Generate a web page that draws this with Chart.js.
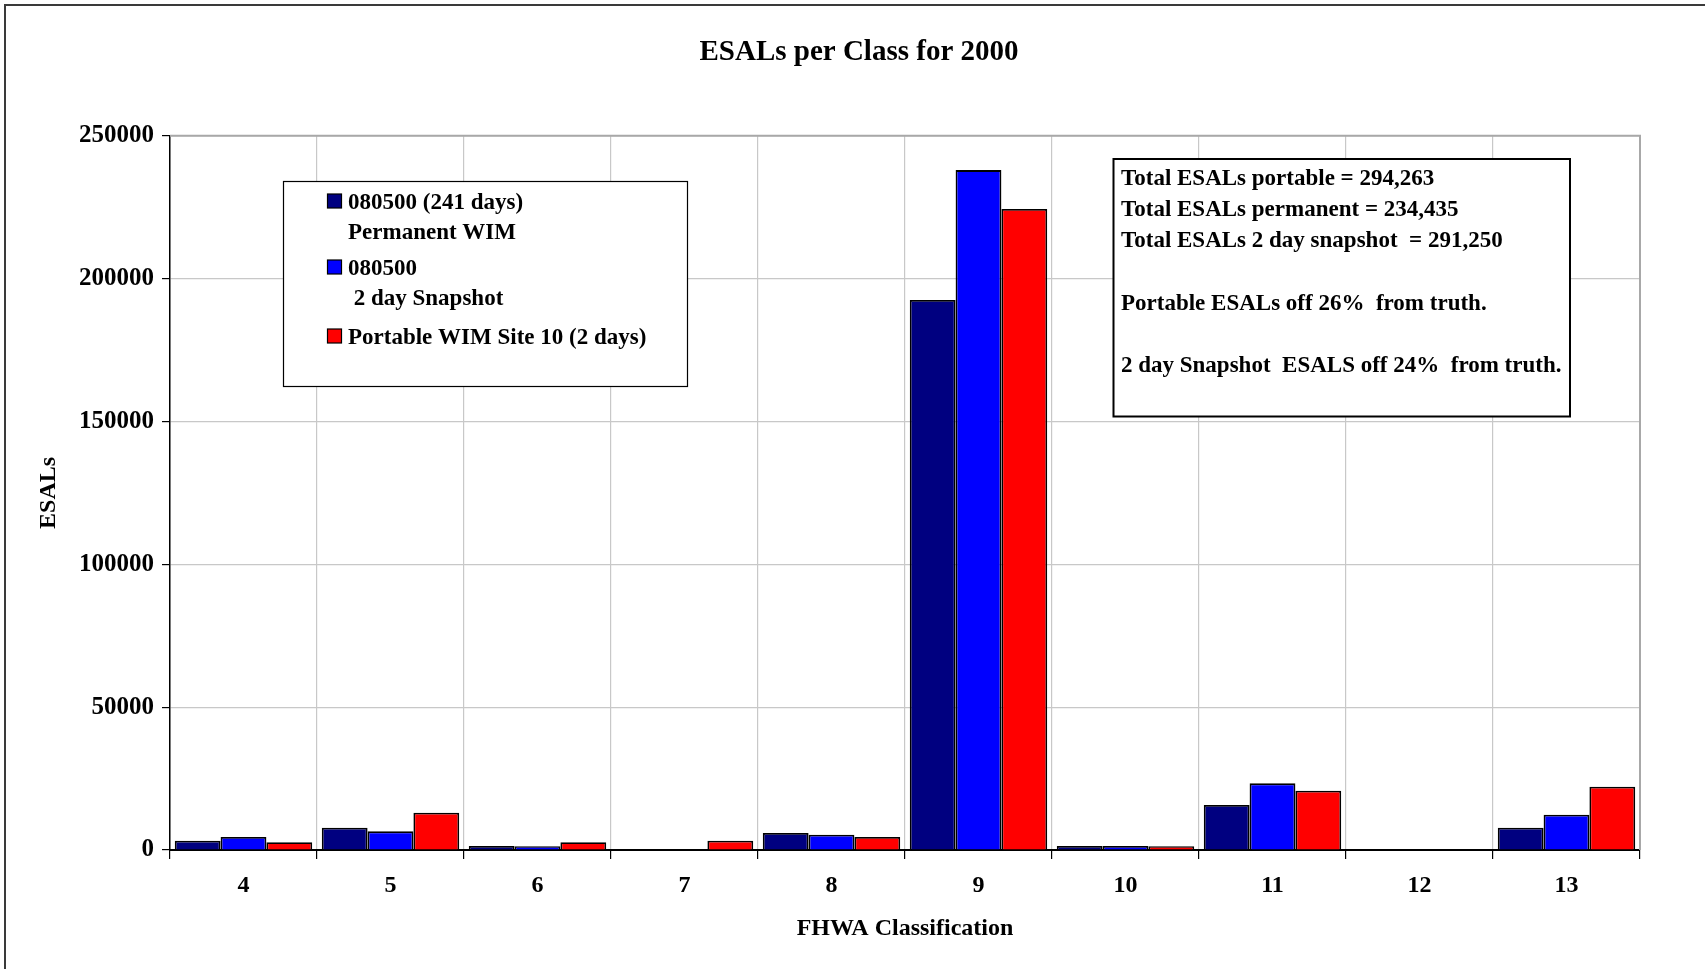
<!DOCTYPE html>
<html>
<head>
<meta charset="utf-8">
<title>ESALs per Class for 2000</title>
<script src="https://cdn.jsdelivr.net/npm/chart.js@4.4.1/dist/chart.umd.min.js"></script>
<style>
  html, body { margin: 0; padding: 0; background: #ffffff; }
  #wrap { position: relative; width: 1705px; height: 969px; }
</style>
</head>
<body>
<div id="wrap"><canvas id="chart"></canvas></div>
<script>
// FHWA vehicle classes on the x axis
const classes = ['4', '5', '6', '7', '8', '9', '10', '11', '12', '13'];

// ESALs per class for each data source
const permanentWim = [3260, 7800, 1400, 0, 5950, 192500, 1400, 15750, 0, 7820];
const snapshot2Day = [4550, 6530, 1350, 0, 5370, 238000, 1400, 23330, 0, 12370];
const portableWim  = [2690, 13070, 2690, 3260, 4550, 224400, 1300, 20770, 0, 22170];

// Series names and the lines shown for each in the legend box
const seriesNames = ['080500 (241 days) Permanent WIM', '080500 2 day Snapshot', 'Portable WIM Site 10 (2 days)'];
const legendLines = [
  ['080500 (241 days)', 'Permanent WIM'],
  ['080500', ' 2 day Snapshot'],
  ['Portable WIM Site 10 (2 days)']
];
const seriesColors = ['#000080', '#0000ff', '#ff0000'];

// Y axis range and tick step
const yMin = 0, yMax = 250000, yStep = 50000;

// Summary note shown in the boxed annotation (blank entries are spacer lines)
const noteLines = [
  'Total ESALs portable = 294,263',
  'Total ESALs permanent = 234,435',
  'Total ESALs 2 day snapshot  = 291,250',
  '',
  'Portable ESALs off 26%  from truth.',
  '',
  '2 day Snapshot  ESALS off 24%  from truth.'
];

const FONT = '"Liberation Serif", "Times New Roman", serif';

// Outer frame of the figure (top and left edges visible)
const framePlugin = {
  id: 'frame',
  beforeDraw(chart) {
    const ctx = chart.ctx;
    ctx.save();
    ctx.fillStyle = '#ffffff';
    ctx.fillRect(0, 0, chart.width, chart.height);
    ctx.strokeStyle = '#3a3a3a';
    ctx.lineWidth = 2;
    ctx.strokeRect(5, 5, chart.width + 20, chart.height + 20);
    ctx.restore();
  }
};

// Light grey top/right border of the plot area
const plotBorderPlugin = {
  id: 'plotBorder',
  beforeDatasetsDraw(chart) {
    const { ctx, chartArea: a } = chart;
    ctx.save();
    ctx.strokeStyle = '#a8a8a8';
    ctx.lineWidth = 2;
    ctx.beginPath();
    ctx.moveTo(a.left, a.top);
    ctx.lineTo(a.right, a.top);
    ctx.lineTo(a.right, a.bottom);
    ctx.stroke();
    ctx.restore();
  }
};

// Boxed legend and boxed summary note drawn inside the plot area
const boxesPlugin = {
  id: 'boxes',
  afterDraw(chart) {
    const ctx = chart.ctx;
    ctx.save();

    // legend box
    ctx.fillStyle = '#ffffff';
    ctx.fillRect(283.5, 181.5, 404, 205);
    ctx.strokeStyle = '#000000';
    ctx.lineWidth = 1.2;
    ctx.strokeRect(283.5, 181.5, 404, 205);

    ctx.font = 'bold 23px ' + FONT;
    ctx.textBaseline = 'alphabetic';
    ctx.textAlign = 'left';
    const itemBase = [209, 275, 344];
    chart.data.datasets.forEach((ds, i) => {
      const y0 = itemBase[i];
      ctx.fillStyle = ds.backgroundColor;
      ctx.fillRect(327.5, y0 - 15, 14, 14);
      ctx.strokeStyle = '#000000';
      ctx.lineWidth = 1.2;
      ctx.strokeRect(327.5, y0 - 15, 14, 14);
      ctx.fillStyle = '#000000';
      legendLines[i].forEach((t, k) => {
        ctx.fillText(t, 348, y0 + k * 29.5);
      });
    });

    // summary note box
    ctx.fillStyle = '#ffffff';
    ctx.fillRect(1113.5, 159, 456.5, 257.5);
    ctx.strokeStyle = '#000000';
    ctx.lineWidth = 2;
    ctx.strokeRect(1113.5, 159, 456.5, 257.5);
    ctx.fillStyle = '#000000';
    ctx.font = 'bold 23px ' + FONT;
    noteLines.forEach((t, k) => {
      if (t) ctx.fillText(t, 1121, 185 + k * 31.2);
    });

    ctx.restore();
  }
};

const ctx = document.getElementById('chart').getContext('2d');
new Chart(ctx, {
  type: 'bar',
  data: {
    labels: classes,
    datasets: [permanentWim, snapshot2Day, portableWim].map((vals, i) => ({
      label: seriesNames[i],
      data: vals,
      backgroundColor: seriesColors[i],
      borderColor: '#000000',
      borderWidth: 1.8,
      categoryPercentage: 0.935,
      barPercentage: 1.0
    }))
  },
  options: {
    responsive: true,
    maintainAspectRatio: false,
    animation: false,
    devicePixelRatio: 1,
    layout: { padding: { left: 13, right: 0, top: 0, bottom: 0 } },
    plugins: {
      legend: { display: false },
      tooltip: { enabled: false },
      title: {
        display: true,
        text: 'ESALs per Class for 2000',
        color: '#000000',
        font: { family: FONT, size: 29, weight: 'bold', lineHeight: 1.2 },
        padding: { top: 35, bottom: 66 }
      }
    },
    scales: {
      x: {
        grid: {
          offset: true,
          color: '#c8c8c8',
          lineWidth: 1.2,
          tickColor: '#000000',
          tickLength: 9,
          drawOnChartArea: true
        },
        border: { color: '#000000', width: 2 },
        ticks: {
          color: '#000000',
          font: { family: FONT, size: 24, weight: 'bold' },
          padding: 12,
          maxRotation: 0
        },
        title: {
          display: true,
          text: 'FHWA Classification',
          color: '#000000',
          font: { family: FONT, size: 24, weight: 'bold', lineHeight: 1.2 },
          padding: { top: 0, bottom: 26 }
        },
        afterFit(scale) { scale.height = 969 - 850; }
      },
      y: {
        min: yMin,
        max: yMax,
        ticks: {
          stepSize: yStep,
          color: '#000000',
          font: { family: FONT, size: 25, weight: 'bold' },
          padding: 8,
          callback: v => String(v)
        },
        grid: {
          color: '#c8c8c8',
          lineWidth: 1.2,
          tickColor: '#000000',
          tickLength: 8
        },
        border: { color: '#000000', width: 1.5 },
        title: {
          display: true,
          text: 'ESALs',
          color: '#000000',
          font: { family: FONT, size: 24, weight: 'bold', lineHeight: 1.2 },
          padding: { top: 21, bottom: 0 }
        },
        afterFit(scale) { scale.width = 157; }
      },
      // empty right-hand margin column beside the plot
      yRight: {
        position: 'right',
        min: yMin,
        max: yMax,
        ticks: { display: false },
        grid: { drawOnChartArea: false, drawTicks: false },
        border: { display: false },
        afterFit(scale) { scale.width = 65; }
      }
    }
  },
  plugins: [framePlugin, plotBorderPlugin, boxesPlugin]
});
</script>
</body>
</html>
